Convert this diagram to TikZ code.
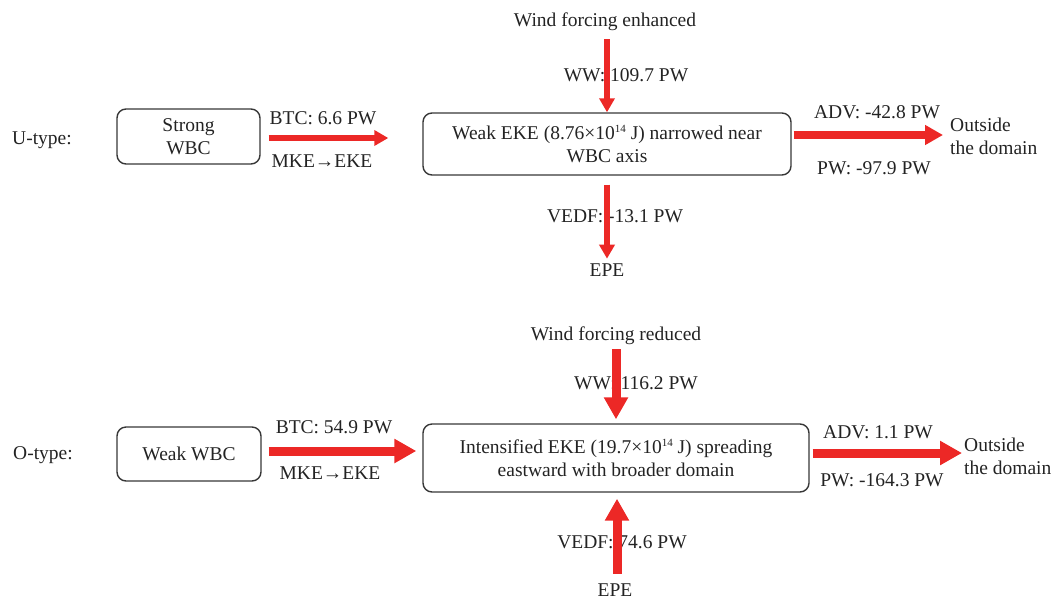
\documentclass[tikz,border=0pt]{standalone}
\usepackage{fontspec}
\setmainfont{Liberation Serif}
\usetikzlibrary{arrows.meta,calc}
\definecolor{arrred}{RGB}{236,40,38}
\definecolor{txt}{RGB}{35,35,35}
\definecolor{boxline}{RGB}{55,55,55}
\newcommand{\supsm}[1]{\raisebox{6.5pt}{\fontsize{11}{11}\selectfont #1}}
\tikzset{
  lbl/.style={inner sep=0pt, yshift=-2pt, text=txt, text height=13pt, text depth=4pt, font=\fontsize{19.5}{23}\selectfont},
  rbox/.style={draw=boxline, line width=1.4pt, rounded corners=9pt, inner sep=0pt, align=center, text=txt, font=\fontsize{19.5}{23}\selectfont},
  thinarr/.style={draw=arrred, line width=5.5pt, -{Triangle[length=14pt,width=15pt]}},
  thickarr/.style={draw=arrred, line width=9pt, -{Triangle[length=22pt,width=23pt]}},
  midarr/.style={draw=arrred, line width=8.5pt, -{Triangle[length=18pt,width=19pt]}},
}
\begin{document}
\begin{tikzpicture}[x=1pt,y=-1pt]
\useasboundingbox (0,0) rectangle (1056,600);

% ---------- U-type ----------
\node[lbl] (utype) at (42,138) {U-type:};
\node[rbox, minimum width=143pt, minimum height=55pt] (ubox) at (188.5,136.5) {Strong\\WBC};
\node[rbox, minimum width=368pt, minimum height=62pt] (umain) at (607,144)
  {Weak EKE (8.76×10\supsm{14} J) narrowed near\\WBC axis};
\node[lbl] (wfu) at (605,20) {Wind forcing enhanced};
\node[lbl] (epeu) at (607,270) {EPE};
\node[lbl, align=left, anchor=west, text height=, text depth=] (outu) at (950,134) {Outside\\the domain};

\node[lbl] (ubtc) at (323,118) {BTC: 6.6 PW};
\node[lbl] (umke) at (322,161) {MKE→EKE};
\node[lbl] (uww) at (626,75) {WW: 109.7 PW};
\node[lbl] (uvedf) at (615,216) {VEDF: -13.1 PW};
\node[lbl] (uadv) at (877,112) {ADV: -42.8 PW};
\node[lbl] (upw) at (874,168) {PW: -97.9 PW};

\draw[thinarr] ($(ubox.east)+(8,1.5)$) -- ($(umain.west)+(-34,-6)$);
\draw[thinarr] ($(umain.north)+(0,-73)$) -- (umain.north);
\draw[thinarr] ($(umain.south)+(0,9)$) -- ($(umain.south)+(0,83)$);
\coordinate (ua) at ($(umain.east)+(2,-9)$);
\draw[midarr] (ua) -- ($(ua -| outu.west)+(-7,0)$);

% ---------- O-type ----------
\node[lbl] (otype) at (43,453) {O-type:};
\node[rbox, minimum width=144pt, minimum height=54pt] (obox) at (189,454) {Weak WBC};
\node[rbox, minimum width=386pt, minimum height=68pt] (omain) at (616,458)
  {Intensified EKE (19.7×10\supsm{14} J) spreading\\eastward with broader domain};
\node[lbl] (wfd) at (616,334) {Wind forcing reduced};
\node[lbl] (eped) at (615,590) {EPE};
\node[lbl, align=left, anchor=west, text height=, text depth=] (outd) at (964,454) {Outside\\the domain};

\node[lbl] (obtc) at (334,427) {BTC: 54.9 PW};
\node[lbl] (omke) at (330,473) {MKE→EKE};
\node[lbl] (oww) at (636,383) {WW: 116.2 PW};
\node[lbl] (ovedf) at (622,542) {VEDF: 74.6 PW};
\node[lbl] (oadv) at (878,432) {ADV: 1.1 PW};
\node[lbl] (opw) at (882,480) {PW: -164.3 PW};

\draw[thickarr] ($(obox.east)+(7,-3)$) -- ($(omain.west)+(-6,-7)$);
\draw[thickarr] ($(omain.north)+(0,-74)$) -- ($(omain.north)+(0,-4)$);
\draw[thickarr] ($(omain.south)+(1,81)$) -- ($(omain.south)+(1,6)$);
\coordinate (oa) at ($(omain.east)+(3,-5)$);
\draw[thickarr] (oa) -- ($(oa -| outd.west)+(-2,0)$);
\end{tikzpicture}
\end{document}
